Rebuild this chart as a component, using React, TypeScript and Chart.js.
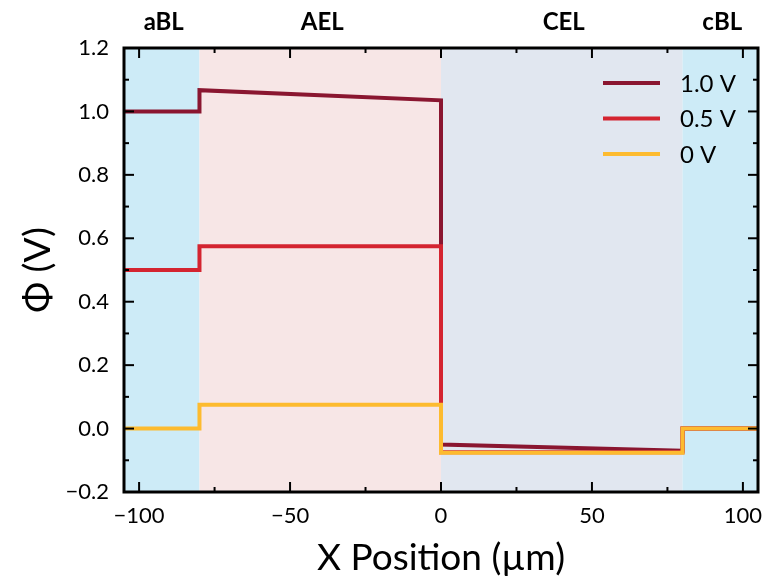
import React, { useEffect, useRef } from "react";
import { Chart, registerables } from "chart.js";

Chart.register(...registerables);

// Sample positions along the cell (µm); repeated x values make the vertical steps
const positions = [-105, -80, -80, 0, 0, 80, 80, 105];
const phi10 = [1.0, 1.0, 1.067, 1.035, -0.05, -0.07, 0.0, 0.0];
const phi05 = [0.5, 0.5, 0.575, 0.575, -0.075, -0.075, 0.0, 0.0];
const phi00 = [0.0, 0.0, 0.075, 0.075, -0.076, -0.076, 0.0, 0.0];
const seriesLabels = ["1.0 V", "0.5 V", "0 V"];
const seriesColors = ["#8a1630", "#d42430", "#fdbb2f"];

// Layer regions
const regionNames = ["aBL", "AEL", "CEL", "cBL"];
const regionStarts = [-105, -80, 0, 80];
const regionEnds = [-80, 0, 80, 105];
const regionColors = ["#cdebf7", "#f7e6e6", "#e1e7f0", "#cdebf7"];

const xMajorTicks = [-100, -50, 0, 50, 100];
const xMinorTicks = [-75, -25, 25, 75];
const yMajorTicks = [-0.2, 0, 0.2, 0.4, 0.6, 0.8, 1.0, 1.2];
const yMinorTicks = [-0.1, 0.1, 0.3, 0.5, 0.7, 0.9, 1.1];

const FONT = "Lato, 'DejaVu Sans', sans-serif";

const toPoints = (ys: number[]) => positions.map((x, i) => ({ x, y: ys[i] }));
const fmt = (s: string) => s.replace("-", "\u2212");

const decorations = {
  id: "decorations",
  beforeDatasetsDraw(chart: any) {
    const { ctx, chartArea: a, scales } = chart;
    const xs = scales.x;
    ctx.save();
    regionNames.forEach((_, i) => {
      const x0 = xs.getPixelForValue(regionStarts[i]);
      const x1 = xs.getPixelForValue(regionEnds[i]);
      ctx.fillStyle = regionColors[i];
      ctx.fillRect(x0, a.top, x1 - x0, a.bottom - a.top);
    });
    ctx.restore();
  },
  afterDatasetsDraw(chart: any) {
    const { ctx, chartArea: a, scales } = chart;
    const xs = scales.x;
    const ys = scales.y;
    ctx.save();
    ctx.strokeStyle = "#000";
    ctx.lineWidth = 2;
    ctx.lineCap = "butt";
    const tick = (x0: number, y0: number, x1: number, y1: number) => {
      ctx.beginPath();
      ctx.moveTo(x0, y0);
      ctx.lineTo(x1, y1);
      ctx.stroke();
    };
    xMajorTicks.forEach((v) => {
      const px = xs.getPixelForValue(v);
      tick(px, a.bottom, px, a.bottom - 10);
      tick(px, a.top, px, a.top + 10);
    });
    xMinorTicks.forEach((v) => {
      const px = xs.getPixelForValue(v);
      tick(px, a.bottom, px, a.bottom - 5);
      tick(px, a.top, px, a.top + 5);
    });
    yMajorTicks.forEach((v) => {
      const py = ys.getPixelForValue(v);
      tick(a.left, py, a.left + 10, py);
      tick(a.right, py, a.right - 10, py);
    });
    yMinorTicks.forEach((v) => {
      const py = ys.getPixelForValue(v);
      tick(a.left, py, a.left + 5, py);
      tick(a.right, py, a.right - 5, py);
    });
    // frame
    ctx.lineWidth = 3;
    ctx.strokeRect(a.left, a.top, a.right - a.left, a.bottom - a.top);

    // region labels above the frame
    ctx.fillStyle = "#000";
    ctx.font = `bold 24px ${FONT}`;
    ctx.textAlign = "center";
    ctx.textBaseline = "middle";
    regionNames.forEach((name, i) => {
      const cx = (xs.getPixelForValue(regionStarts[i]) + xs.getPixelForValue(regionEnds[i])) / 2;
      ctx.fillText(name, cx + 2, 22);
    });

    // legend
    ctx.font = `24px ${FONT}`;
    ctx.textAlign = "left";
    seriesLabels.forEach((label, i) => {
      const y = 83 + i * 35.5;
      ctx.strokeStyle = seriesColors[i];
      ctx.lineWidth = 4;
      tick(603, y, 660, y);
      ctx.fillStyle = "#000";
      ctx.fillText(label, 680, y + 1);
    });

    // axis titles
    ctx.font = `37px ${FONT}`;
    ctx.textAlign = "center";
    ctx.textBaseline = "alphabetic";
    ctx.fillText("X Position (\u00b5m)", (a.left + a.right) / 2, 570);
    ctx.save();
    ctx.translate(50, (a.top + a.bottom) / 2);
    ctx.rotate(-Math.PI / 2);
    ctx.fillText("\u03a6 (V)", 0, 0);
    ctx.restore();
    ctx.restore();
  },
};

export default function App() {
  const canvasRef = useRef<HTMLCanvasElement | null>(null);

  useEffect(() => {
    if (!canvasRef.current) return;
    const datasets = [phi10, phi05, phi00].map((ys, i) => ({
      label: seriesLabels[i],
      data: toPoints(ys),
      borderColor: seriesColors[i],
      backgroundColor: seriesColors[i],
      borderWidth: 4,
      pointRadius: 0,
      tension: 0,
      fill: false,
      borderJoinStyle: "miter" as const,
      borderCapStyle: "butt" as const,
      order: 2 - i,
    }));
    const chart = new Chart(canvasRef.current, {
      type: "line",
      data: { datasets },
      options: {
        animation: false,
        responsive: false,
        devicePixelRatio: 1,
        layout: { padding: { left: 0, right: 13, top: 48, bottom: 0 } },
        plugins: { legend: { display: false }, tooltip: { enabled: false } },
        scales: {
          x: {
            type: "linear",
            min: -105,
            max: 105,
            grid: { display: false },
            border: { display: false },
            ticks: {
              stepSize: 50,
              includeBounds: false,
              maxRotation: 0,
              padding: 3,
              color: "#000",
              font: { family: FONT, size: 22 },
              callback: (v: any) => fmt(String(Math.round(Number(v)))),
            },
            afterFit: (s: any) => {
              s.height = 88;
            },
          },
          y: {
            type: "linear",
            min: -0.2,
            max: 1.2,
            grid: { display: false },
            border: { display: false },
            ticks: {
              stepSize: 0.2,
              padding: 7,
              color: "#000",
              font: { family: FONT, size: 22 },
              callback: (v: any) => {
                const n = Math.abs(Number(v)) < 1e-9 ? 0 : Number(v);
                return fmt(n.toFixed(1));
              },
            },
            afterFit: (s: any) => {
              s.width = 124;
            },
          },
        },
      },
      plugins: [decorations],
    });
    return () => chart.destroy();
  }, []);

  return (
    <div style={{ position: "fixed", left: 0, top: 0, width: 771, height: 580, background: "#fff" }}>
      <canvas ref={canvasRef} width={771} height={580} />
    </div>
  );
}
